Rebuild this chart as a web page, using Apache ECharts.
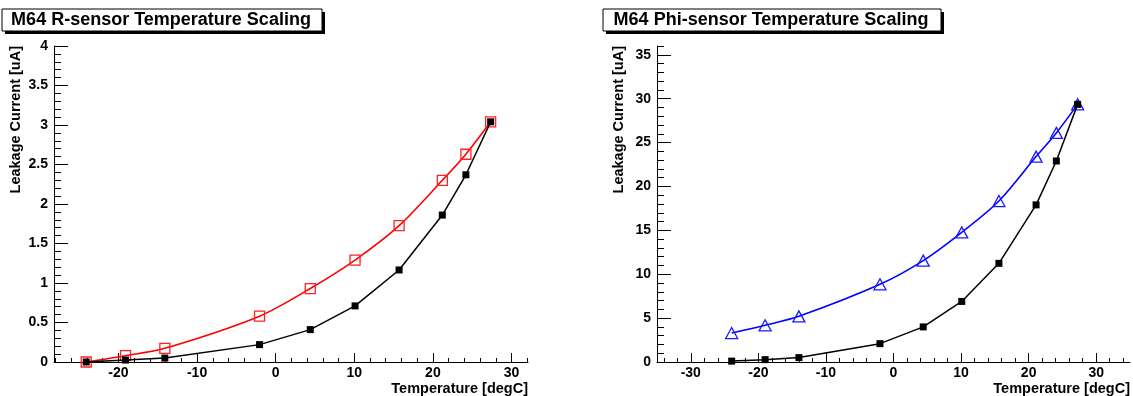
<!DOCTYPE html>
<html>
<head>
<meta charset="utf-8">
<script src="https://cdn.jsdelivr.net/npm/echarts@6/dist/echarts.min.js"></script>
<style>
html,body{margin:0;padding:0;background:#fff;}
#c{width:1133px;height:396px;}
</style>
</head>
<body>
<div id="c"></div>
<script>
// ---- data ----
const titleR = 'M64 R-sensor Temperature Scaling';
const titlePhi = 'M64 Phi-sensor Temperature Scaling';
const xName = 'Temperature [degC]';
const yName = 'Leakage Current [uA]';

const tempR = [-24.1, -19.1, -14.1, -2.05, 4.4, 10.1, 15.7, 21.2, 24.2, 27.35];
const rBlack = [0.0, 0.025, 0.05, 0.22, 0.41, 0.71, 1.165, 1.86, 2.37, 3.04];
const rRed = [0.0, 0.08, 0.173, 0.58, 0.93, 1.29, 1.726, 2.30, 2.63, 3.04];

const tempPhi = [-23.95, -19.0, -14.0, -2.0, 4.4, 10.1, 15.6, 21.1, 24.1, 27.25];
const phiBlack = [0.1, 0.27, 0.5, 2.09, 4.0, 6.9, 11.24, 17.9, 22.9, 29.35];
const phiBlue = [3.3, 4.18, 5.2, 8.85, 11.55, 14.77, 18.34, 23.4, 26.1, 29.35];

const xTicksR = [-20, -10, 0, 10, 20, 30];
const yTicksR = [0, 0.5, 1, 1.5, 2, 2.5, 3, 3.5, 4];
const xTicksPhi = [-30, -20, -10, 0, 10, 20, 30];
const yTicksPhi = [0, 5, 10, 15, 20, 25, 30, 35];

// minor tick helpers (decoration only)
function minors(lo, hi, step, majors) {
  const out = [];
  const n = Math.round((hi - lo) / step);
  for (let i = 0; i <= n; i++) {
    const v = +(lo + i * step).toFixed(4);
    if (!majors.some(m => Math.abs(m - v) < 1e-6)) out.push(v);
  }
  return out;
}
const xMinorR = minors(-28, 32, 2, xTicksR);
const yMinorR = minors(0, 4, 0.1, yTicksR);
const xMinorPhi = minors(-34, 34, 2, xTicksPhi);
const yMinorPhi = minors(0, 36, 1, yTicksPhi);

function pairs(xs, ys) { return xs.map((x, i) => [x, ys[i]]); }

const FONT = '"Liberation Sans", Arial, Helvetica, sans-serif';
const lblStyle = { color: '#000', fontFamily: FONT, fontWeight: 'bold', fontSize: 14 };

function xAxisMain(grid, min, max, ticks) {
  return {
    type: 'value', gridIndex: grid, min: min, max: max, position: 'bottom',
    splitLine: { show: false },
    axisLine: { show: true, onZero: false, lineStyle: { color: '#000', width: 1 } },
    axisTick: { show: true, inside: true, length: 9, customValues: ticks, lineStyle: { color: '#000', width: 1 } },
    axisLabel: Object.assign({ show: true, customValues: ticks, margin: 4 }, lblStyle),
    name: xName, nameLocation: 'end', nameGap: 0,
    nameTextStyle: { color: '#000', fontFamily: FONT, fontWeight: 'bold', fontSize: 14.5, align: 'right', verticalAlign: 'top', padding: [19, 0, 0, 0] }
  };
}
function xAxisMinor(grid, min, max, ticks) {
  return {
    type: 'value', gridIndex: grid, min: min, max: max, position: 'bottom', offset: 0,
    splitLine: { show: false },
    axisLine: { show: false, onZero: false },
    axisTick: { show: true, inside: true, length: 4, customValues: ticks, lineStyle: { color: '#000', width: 1 } },
    axisLabel: { show: false }
  };
}
function yAxisMain(grid, min, max, ticks) {
  return {
    type: 'value', gridIndex: grid, min: min, max: max, position: 'left',
    splitLine: { show: false },
    axisLine: { show: true, onZero: false, lineStyle: { color: '#000', width: 1 } },
    axisTick: { show: true, inside: true, length: 14, customValues: ticks, lineStyle: { color: '#000', width: 1 } },
    axisLabel: Object.assign({ show: true, customValues: ticks, margin: 6 }, lblStyle),
    name: yName, nameLocation: 'end', nameGap: 0, nameRotate: 90,
    nameTextStyle: { color: '#000', fontFamily: FONT, fontWeight: 'bold', fontSize: 14.5, align: 'right', verticalAlign: 'bottom', padding: [0, 0, 31, 0] }
  };
}
function yAxisMinor(grid, min, max, ticks) {
  return {
    type: 'value', gridIndex: grid, min: min, max: max, position: 'left', offset: 0,
    splitLine: { show: false },
    axisLine: { show: false, onZero: false },
    axisTick: { show: true, inside: true, length: 7, customValues: ticks, lineStyle: { color: '#000', width: 1 } },
    axisLabel: { show: false }
  };
}

const chart = echarts.init(document.getElementById('c'), null, { renderer: 'canvas' });

const option = {
  animation: false,
  backgroundColor: '#fff',
  grid: [
    { left: 54, top: 46, width: 474, height: 316 },
    { left: 657, top: 46, width: 473.5, height: 316 }
  ],
  xAxis: [
    xAxisMain(0, -28.2, 32.1, xTicksR),
    xAxisMinor(0, -28.2, 32.1, xMinorR),
    xAxisMain(1, -35, 35, xTicksPhi),
    xAxisMinor(1, -35, 35, xMinorPhi)
  ],
  yAxis: [
    yAxisMain(0, 0, 4, yTicksR),
    yAxisMinor(0, 0, 4, yMinorR),
    yAxisMain(1, 0, 36, yTicksPhi),
    yAxisMinor(1, 0, 36, yMinorPhi)
  ],
  series: [
    {
      type: 'line', xAxisIndex: 0, yAxisIndex: 0, data: pairs(tempR, rRed),
      smooth: 0.3, symbol: 'rect', symbolSize: 10, z: 2,
      lineStyle: { color: '#ff0000', width: 1.6 },
      itemStyle: { color: 'rgba(0,0,0,0)', borderColor: '#ff2020', borderWidth: 1.3 }
    },
    {
      type: 'line', xAxisIndex: 0, yAxisIndex: 0, data: pairs(tempR, rBlack),
      smooth: false, symbol: 'rect', symbolSize: 7, z: 3,
      lineStyle: { color: '#000', width: 1.5 },
      itemStyle: { color: '#000' }
    },
    {
      type: 'line', xAxisIndex: 2, yAxisIndex: 2, data: pairs(tempPhi, phiBlue),
      smooth: 0.3, symbol: 'triangle', symbolSize: [12, 11], z: 2,
      lineStyle: { color: '#0000ff', width: 1.6 },
      itemStyle: { color: 'rgba(0,0,0,0)', borderColor: '#1a1aff', borderWidth: 1.3 }
    },
    {
      type: 'line', xAxisIndex: 2, yAxisIndex: 2, data: pairs(tempPhi, phiBlack),
      smooth: false, symbol: 'rect', symbolSize: 7, z: 3,
      lineStyle: { color: '#000', width: 1.5 },
      itemStyle: { color: '#000' }
    }
  ],
  graphic: [
    { type: 'rect', shape: { x: 5, y: 12, width: 320, height: 22 }, style: { fill: '#000' }, silent: true },
    { type: 'rect', shape: { x: 2, y: 9, width: 320, height: 22 }, style: { fill: '#fff', stroke: '#000', lineWidth: 1 }, silent: true },
    { type: 'text', x: 161, y: 20.5, style: { text: titleR, fill: '#000', font: 'bold 18px ' + FONT, textAlign: 'center', textVerticalAlign: 'middle' }, silent: true },
    { type: 'rect', shape: { x: 606, y: 12, width: 338, height: 22 }, style: { fill: '#000' }, silent: true },
    { type: 'rect', shape: { x: 603, y: 9, width: 338, height: 22 }, style: { fill: '#fff', stroke: '#000', lineWidth: 1 }, silent: true },
    { type: 'text', x: 771, y: 20.5, style: { text: titlePhi, fill: '#000', font: 'bold 18px ' + FONT, textAlign: 'center', textVerticalAlign: 'middle' }, silent: true }
  ]
};
chart.setOption(option);
</script>
</body>
</html>
